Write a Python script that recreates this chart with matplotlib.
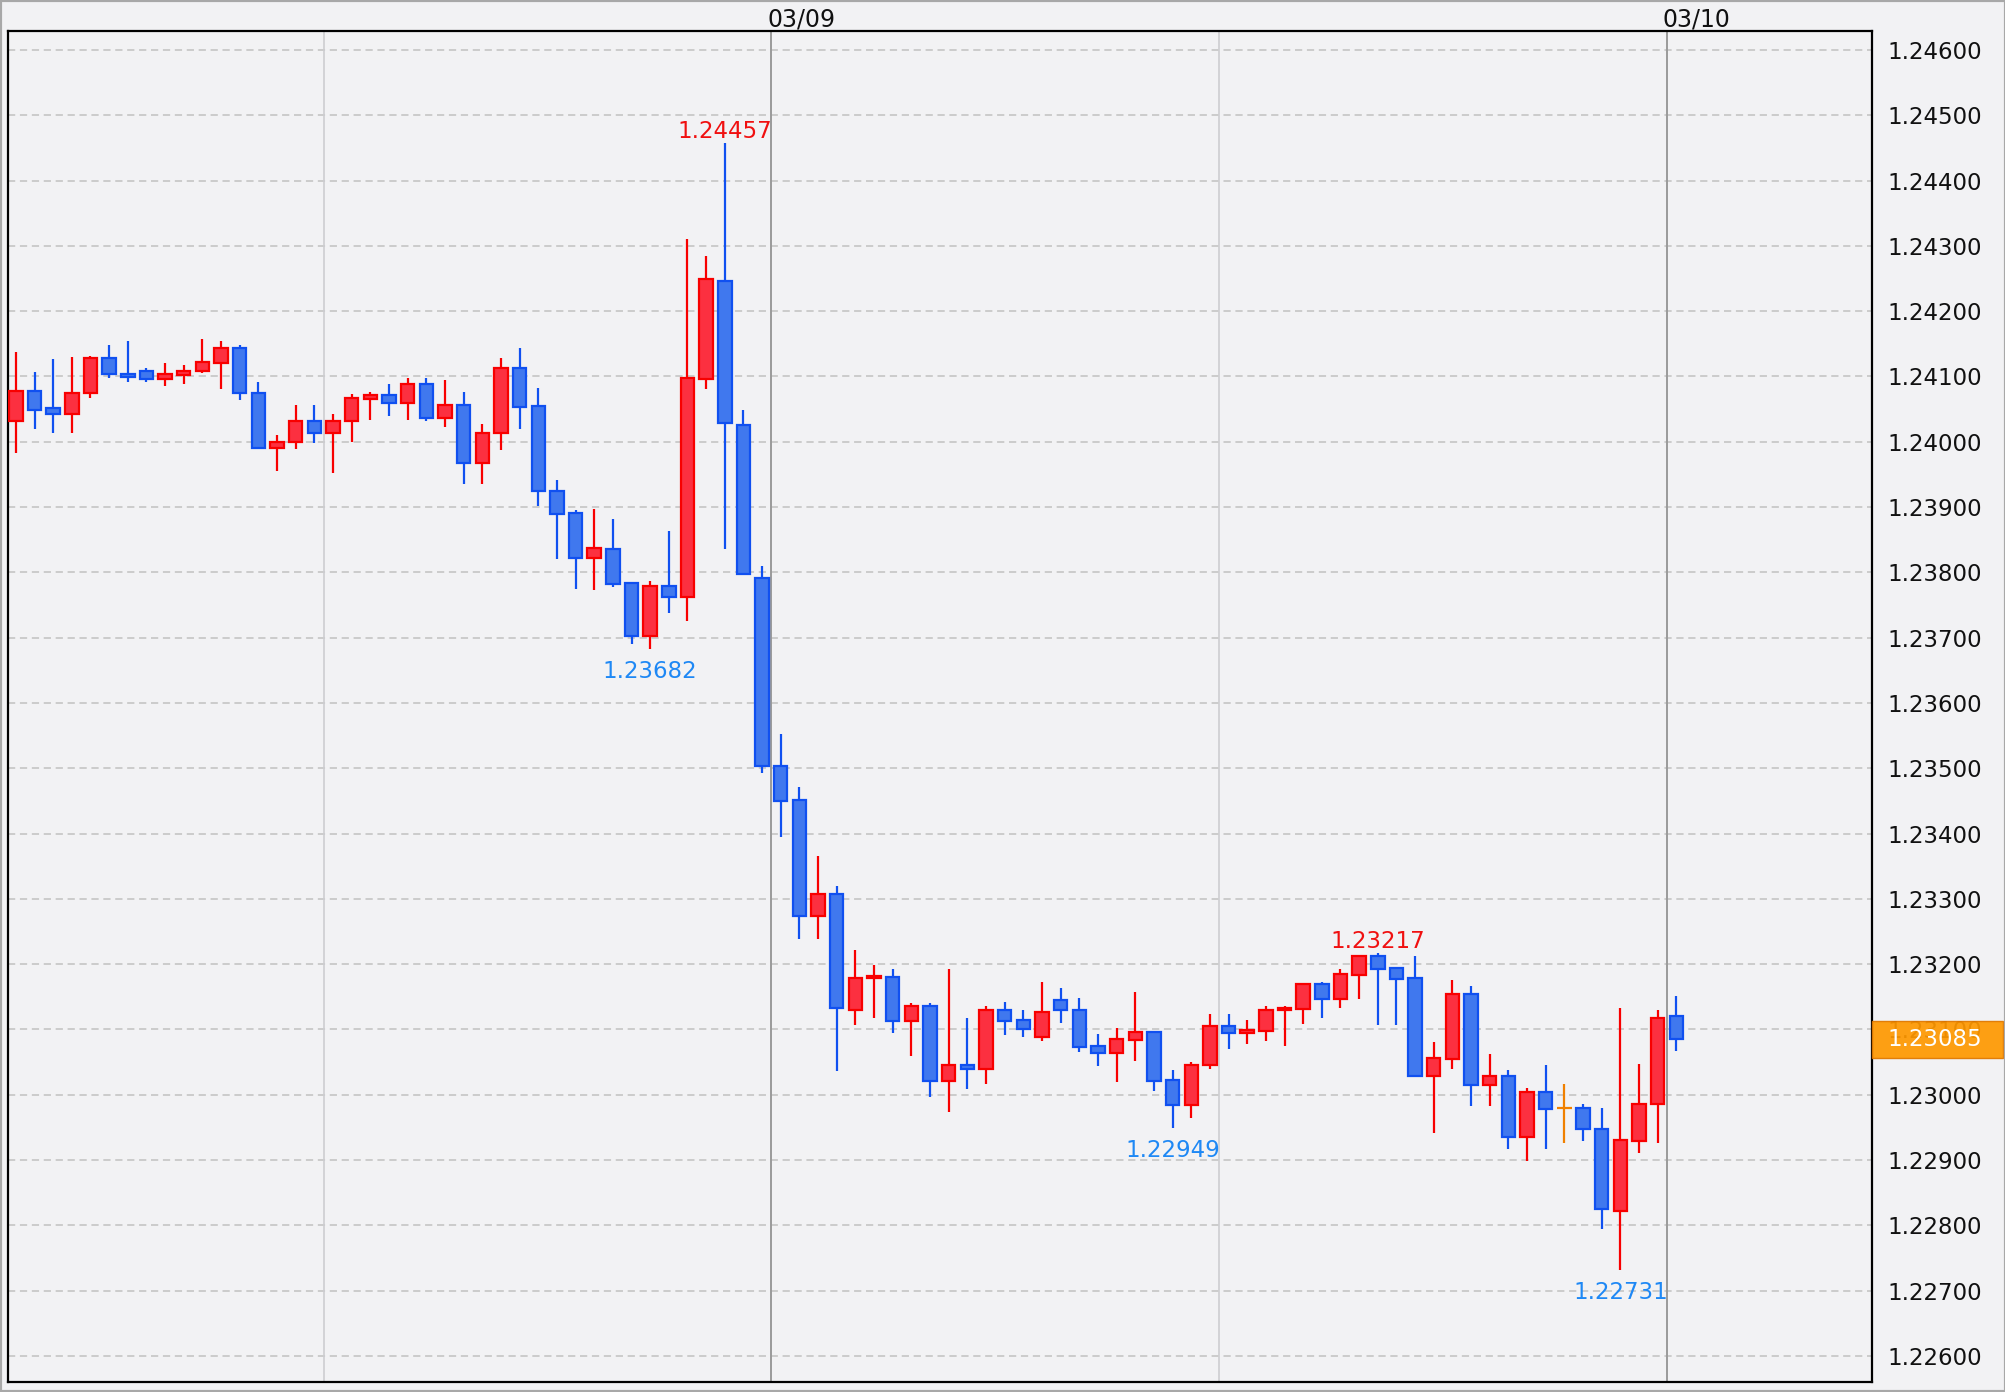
import matplotlib
matplotlib.use('Agg')
import matplotlib.pyplot as plt
from matplotlib.patches import Rectangle
from matplotlib.transforms import blended_transform_factory
import numpy as np
import pandas as pd

# ---------------- data (30-minute candles) ----------------
start_time = '2021-03-08 03:30'
opens = [1.24031, 1.24078, 1.24051, 1.24043, 1.24074, 1.24128, 1.24104, 1.24109, 1.24096, 1.24102,
         1.24108, 1.24121, 1.24144, 1.24075, 1.23990, 1.23999, 1.24031, 1.24014, 1.24032, 1.24065,
         1.24072, 1.24059, 1.24088, 1.24037, 1.24056, 1.23967, 1.24013, 1.24113, 1.24054, 1.23925,
         1.23891, 1.23822, 1.23835, 1.23783, 1.23703, 1.23779, 1.23762, 1.24096, 1.24246, 1.24026,
         1.23792, 1.23503, 1.23452, 1.23273, 1.23307, 1.23129, 1.23178, 1.23181, 1.23113, 1.23136,
         1.23021, 1.23046, 1.23039, 1.23129, 1.23114, 1.23088, 1.23145, 1.23129, 1.23074, 1.23064,
         1.23083, 1.23096, 1.23022, 1.22984, 1.23045, 1.23105, 1.23094, 1.23098, 1.23129, 1.23131,
         1.23170, 1.23147, 1.23184, 1.23213, 1.23194, 1.23178, 1.23028, 1.23055, 1.23154, 1.23015,
         1.23028, 1.22935, 1.23004, 1.22979, 1.22979, 1.22948, 1.22822, 1.22929, 1.22985, 1.23120]
highs = [1.24138, 1.24107, 1.24126, 1.24129, 1.24132, 1.24148, 1.24154, 1.24113, 1.24120, 1.24117,
         1.24157, 1.24154, 1.24148, 1.24092, 1.24010, 1.24057, 1.24057, 1.24042, 1.24073, 1.24076,
         1.24089, 1.24097, 1.24097, 1.24095, 1.24076, 1.24027, 1.24128, 1.24144, 1.24082, 1.23941,
         1.23895, 1.23897, 1.23882, 1.23783, 1.23787, 1.23864, 1.24311, 1.24284, 1.24457, 1.24049,
         1.23810, 1.23553, 1.23471, 1.23366, 1.23320, 1.23222, 1.23198, 1.23192, 1.23140, 1.23140,
         1.23192, 1.23117, 1.23136, 1.23142, 1.23130, 1.23173, 1.23164, 1.23148, 1.23093, 1.23102,
         1.23158, 1.23096, 1.23038, 1.23050, 1.23124, 1.23124, 1.23115, 1.23136, 1.23136, 1.23170,
         1.23173, 1.23192, 1.23213, 1.23217, 1.23194, 1.23213, 1.23081, 1.23176, 1.23167, 1.23062,
         1.23038, 1.23010, 1.23045, 1.23017, 1.22986, 1.22980, 1.23133, 1.23047, 1.23130, 1.23151]
lows = [1.23983, 1.24020, 1.24014, 1.24014, 1.24067, 1.24098, 1.24092, 1.24092, 1.24086, 1.24089,
        1.24105, 1.24080, 1.24064, 1.23990, 1.23955, 1.23989, 1.23998, 1.23952, 1.24000, 1.24034,
        1.24040, 1.24034, 1.24031, 1.24022, 1.23936, 1.23936, 1.23988, 1.24019, 1.23902, 1.23820,
        1.23775, 1.23773, 1.23778, 1.23690, 1.23682, 1.23738, 1.23725, 1.24080, 1.23835, 1.23797,
        1.23493, 1.23395, 1.23238, 1.23238, 1.23036, 1.23106, 1.23118, 1.23094, 1.23060, 1.22996,
        1.22974, 1.23008, 1.23017, 1.23091, 1.23088, 1.23082, 1.23110, 1.23066, 1.23044, 1.23020,
        1.23051, 1.23005, 1.22949, 1.22965, 1.23039, 1.23070, 1.23078, 1.23082, 1.23075, 1.23109,
        1.23118, 1.23133, 1.23146, 1.23106, 1.23106, 1.23028, 1.22941, 1.23039, 1.22983, 1.22983,
        1.22917, 1.22898, 1.22917, 1.22926, 1.22929, 1.22794, 1.22731, 1.22911, 1.22926, 1.23067]
closes = [1.24078, 1.24049, 1.24043, 1.24075, 1.24128, 1.24103, 1.24099, 1.24096, 1.24104, 1.24109,
          1.24122, 1.24144, 1.24074, 1.23990, 1.24000, 1.24031, 1.24014, 1.24031, 1.24067, 1.24072,
          1.24059, 1.24088, 1.24037, 1.24056, 1.23967, 1.24014, 1.24113, 1.24053, 1.23924, 1.23890,
          1.23822, 1.23838, 1.23782, 1.23703, 1.23779, 1.23762, 1.24097, 1.24249, 1.24028, 1.23797,
          1.23503, 1.23450, 1.23273, 1.23307, 1.23132, 1.23179, 1.23182, 1.23113, 1.23136, 1.23021,
          1.23046, 1.23039, 1.23129, 1.23113, 1.23101, 1.23126, 1.23129, 1.23073, 1.23064, 1.23086,
          1.23096, 1.23021, 1.22984, 1.23046, 1.23105, 1.23094, 1.23099, 1.23129, 1.23133, 1.23170,
          1.23147, 1.23185, 1.23213, 1.23193, 1.23177, 1.23028, 1.23056, 1.23154, 1.23015, 1.23029,
          1.22935, 1.23004, 1.22978, 1.22979, 1.22948, 1.22825, 1.22930, 1.22985, 1.23117, 1.23085]
current_price = 1.23085
ytick_values = [1.22600, 1.22700, 1.22800, 1.22900, 1.23000, 1.23100, 1.23200, 1.23300, 1.23400,
                1.23500, 1.23600, 1.23700, 1.23800, 1.23900, 1.24000, 1.24100, 1.24200, 1.24300,
                1.24400, 1.24500, 1.24600]
ytick_labels = ['%.5f' % v for v in ytick_values]
marked_candles = [38, 34, 62, 73, 86]
marked_kinds = ['high', 'low', 'low', 'high', 'low']

# ---------------- styling ----------------
BG = '#F2F2F4'
UP_FILL, UP_EDGE = '#FC3040', '#F80000'
DN_FILL, DN_EDGE = '#4078EE', '#1050F0'
DOJI = '#F08000'

W, H = 2006, 1392
fig = plt.figure(figsize=(W / 100, H / 100), dpi=100, facecolor=BG)
L, R, T, B = 8.5, 1872, 31, 1382
ax = fig.add_axes([L / W, 1 - B / H, (R - L) / W, (B - T) / H])
ax.set_facecolor(BG)

n = len(opens)
times = pd.date_range(start_time, periods=n, freq='30min')
xs = np.arange(n)

ax.set_xlim(-0.394, 99.49)
ax.set_ylim(1.22560, 1.24629)

# horizontal grid
for v in ytick_values:
    ax.axhline(v, color='#C8C8C8', lw=1.3, linestyle=(0, (4, 2.6)), zorder=0.5)

# vertical lines at 12h boundaries
for i, t in enumerate(times):
    if t.minute == 0 and t.hour in (0, 12):
        if t.hour == 0:
            ax.axvline(i - 0.5, color='#9A9A9A', lw=1.4, zorder=0.6)
            ax.annotate(t.strftime('%m/%d'), xy=(i - 0.5, 1.0),
                        xycoords=('data', 'axes fraction'), xytext=(-3, 8.2),
                        textcoords='offset points', ha='left', va='center',
                        fontsize=17, color='#111111', annotation_clip=False)
        else:
            ax.axvline(i - 0.5, color='#CDCDD0', lw=1.2, zorder=0.6)

# candles
bw = 0.72
for i in xs:
    o, h, l, c = opens[i], highs[i], lows[i], closes[i]
    if c > o:
        fc, ec = UP_FILL, UP_EDGE
    elif c < o:
        fc, ec = DN_FILL, DN_EDGE
    else:
        fc, ec = DOJI, DOJI
    ax.vlines(i, l, h, color=ec, lw=1.6, zorder=2)
    if c == o:
        ax.hlines(o, i - bw / 2 - 0.05, i + bw / 2 + 0.05, color=ec, lw=1.6, zorder=3)
    else:
        ax.add_patch(Rectangle((i - bw / 2, min(o, c)), bw, abs(c - o),
                               facecolor=fc, edgecolor=ec, lw=1.6, zorder=3))

# high/low marks
for idx, kind in zip(marked_candles, marked_kinds):
    if kind == 'high':
        ax.annotate('%.5f' % highs[idx], xy=(idx, highs[idx]), xytext=(0, 8.3),
                    textcoords='offset points', ha='center', va='center',
                    fontsize=16.5, color='#F01010', zorder=6)
    else:
        ax.annotate('%.5f' % lows[idx], xy=(idx, lows[idx]), xytext=(0, -16),
                    textcoords='offset points', ha='center', va='center',
                    fontsize=16.5, color='#1E88F5', zorder=6)

# axes styling
ax.set_xticks([])
ax.yaxis.tick_right()
ax.set_yticks(ytick_values)
ax.set_yticklabels(ytick_labels)
ax.tick_params(axis='y', length=0, pad=10.8, labelsize=16.5, colors='#111111')
for s in ax.spines.values():
    s.set_color('black')
    s.set_linewidth(1.6)

# current price box (drawn over the tick label it covers, as in the reference)
tr = blended_transform_factory(ax.transAxes, ax.transData)
box_h = 0.000567
x_right = (2003 - L) / (R - L)
ax.add_patch(Rectangle((1.0, current_price - box_h / 2), x_right - 1.0, box_h,
                       transform=tr, facecolor='#FF9800', edgecolor='#E07800',
                       lw=1.0, alpha=0.92, clip_on=False, zorder=10))
ax.text((1887 - L) / (R - L), current_price, '%.5f' % current_price, transform=tr,
        ha='left', va='center', fontsize=16.5, color='white', zorder=11, clip_on=False)

# outer frame
fig.add_artist(Rectangle((0, 0), 1, 1, transform=fig.transFigure, fill=False,
                         edgecolor='#A8A8A8', lw=3))

fig.savefig('out.png', dpi=100, facecolor=BG)
